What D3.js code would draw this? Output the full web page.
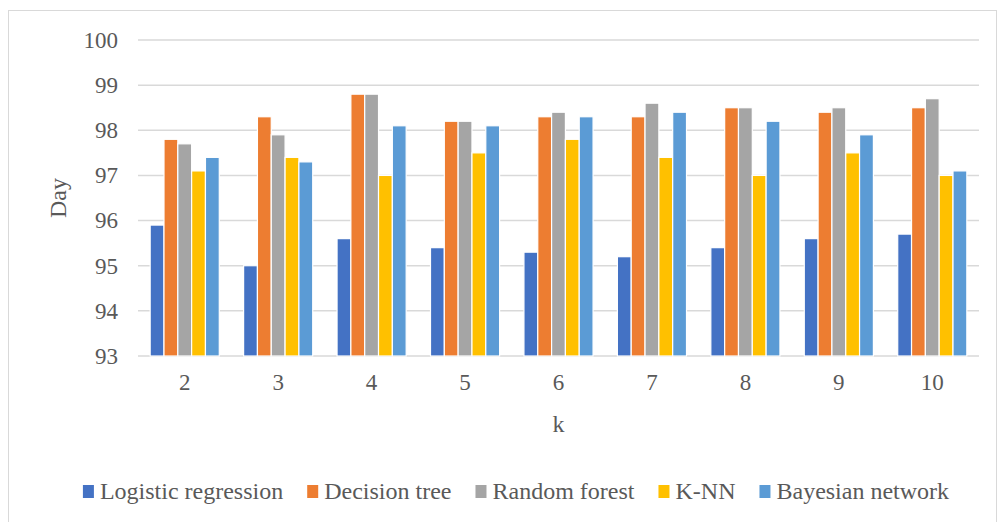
<!DOCTYPE html>
<html>
<head>
<meta charset="utf-8">
<script src="https://cdn.jsdelivr.net/npm/d3@7/dist/d3.min.js"></script>
<style>
  html, body { margin: 0; padding: 0; background: #fff; }
  svg { display: block; }
  svg text { font-family: "Liberation Serif", serif !important; fill: #595959; }
</style>
</head>
<body>
<svg id="chart" width="1000" height="522"></svg>
<script>
// k values on the horizontal axis
const categories = ["2", "3", "4", "5", "6", "7", "8", "9", "10"];

// Series names in legend order
const seriesNames = ["Logistic regression", "Decision tree", "Random forest", "K-NN", "Bayesian network"];

// Values per k for each model
const logisticRegression = [95.9, 95.0, 95.6, 95.4, 95.3, 95.2, 95.4, 95.6, 95.7];
const decisionTree       = [97.8, 98.3, 98.8, 98.2, 98.3, 98.3, 98.5, 98.4, 98.5];
const randomForest       = [97.7, 97.9, 98.8, 98.2, 98.4, 98.6, 98.5, 98.5, 98.7];
const knn                = [97.1, 97.4, 97.0, 97.5, 97.8, 97.4, 97.0, 97.5, 97.0];
const bayesianNetwork    = [97.4, 97.3, 98.1, 98.1, 98.3, 98.4, 98.2, 97.9, 97.1];

const yTicks = [93, 94, 95, 96, 97, 98, 99, 100];

const seriesValues = [logisticRegression, decisionTree, randomForest, knn, bayesianNetwork];
const colors = ["#4472C4", "#ED7D31", "#A5A5A5", "#FFC000", "#5B9BD5"];
const serif = "Liberation Serif, serif";

const svg = d3.select("#chart");

// Chart frame
svg.append("rect")
  .attr("x", 8.5).attr("y", 10.5)
  .attr("width", 988).attr("height", 530)
  .attr("fill", "none").attr("stroke", "#d9d9d9").attr("stroke-width", 1);

const plot = { left: 138, right: 979, top: 40, bottom: 356 };

const y = d3.scaleLinear().domain([93, 100]).range([plot.bottom, plot.top]);
const x0 = d3.scaleBand().domain(categories).range([plot.left, plot.right]).padding(0);

// Bar slots within each category (gap between groups ~176% of one bar)
const gapRatio = 1.76;
const slot = x0.bandwidth() / (seriesNames.length + gapRatio);
const groupOffset = slot * gapRatio / 2;
const x1 = d3.scaleBand().domain(d3.range(seriesNames.length))
  .range([groupOffset, groupOffset + slot * seriesNames.length]).padding(0);

// Gridlines
svg.append("g").selectAll("line").data(yTicks).join("line")
  .attr("x1", plot.left).attr("x2", plot.right)
  .attr("y1", d => y(d)).attr("y2", d => y(d))
  .attr("stroke", "#d9d9d9").attr("stroke-width", 1.5);

// Y tick labels
const yAxis = d3.axisLeft(y).tickValues(yTicks).tickFormat(d3.format("d")).tickSize(0).tickPadding(20);
const gy = svg.append("g").attr("transform", `translate(${plot.left},0)`).call(yAxis)
  .attr("font-family", serif).attr("font-size", 23);
gy.select(".domain").remove();
gy.selectAll("text").attr("fill", "#595959");

// X tick labels
const xAxis = d3.axisBottom(x0).tickSize(0).tickPadding(18);
const gx = svg.append("g").attr("transform", `translate(0,${plot.bottom})`).call(xAxis)
  .attr("font-family", serif).attr("font-size", 23);
gx.select(".domain").remove();
gx.selectAll("text").attr("fill", "#595959");

// Bars
const rows = [];
categories.forEach((c, ci) => {
  seriesValues.forEach((vals, si) => rows.push({ c, si, v: vals[ci] }));
});
svg.append("g").selectAll("rect").data(rows).join("rect")
  .attr("x", d => x0(d.c) + x1(d.si))
  .attr("width", x1.bandwidth())
  .attr("y", d => y(d.v))
  .attr("height", d => y(93) - y(d.v))
  .attr("fill", d => colors[d.si])
  .attr("stroke", "#fff").attr("stroke-width", 1.2);

// Axis titles
svg.append("text")
  .attr("transform", "translate(66,198) rotate(-90)")
  .attr("text-anchor", "middle")
  .attr("font-family", serif).attr("font-size", 24)
  .text("Day");

svg.append("text")
  .attr("x", (plot.left + plot.right) / 2).attr("y", 432)
  .attr("text-anchor", "middle")
  .attr("font-family", serif).attr("font-size", 24)
  .text("k");

// Legend, centred under the chart
const legend = svg.append("g").attr("font-family", serif).attr("font-size", 24);
let cursor = 0;
seriesNames.forEach((name, i) => {
  const g = legend.append("g");
  g.append("rect").attr("x", 0).attr("y", -14).attr("width", 11).attr("height", 13).attr("fill", colors[i]);
  const t = g.append("text").attr("x", 17).attr("y", 0).text(name);
  const w = 17 + t.node().getComputedTextLength();
  g.attr("transform", `translate(${cursor},0)`);
  cursor += w + 24;
});
const totalW = cursor - 24;
legend.attr("transform", `translate(${516 - totalW / 2},499)`);
</script>
</body>
</html>
